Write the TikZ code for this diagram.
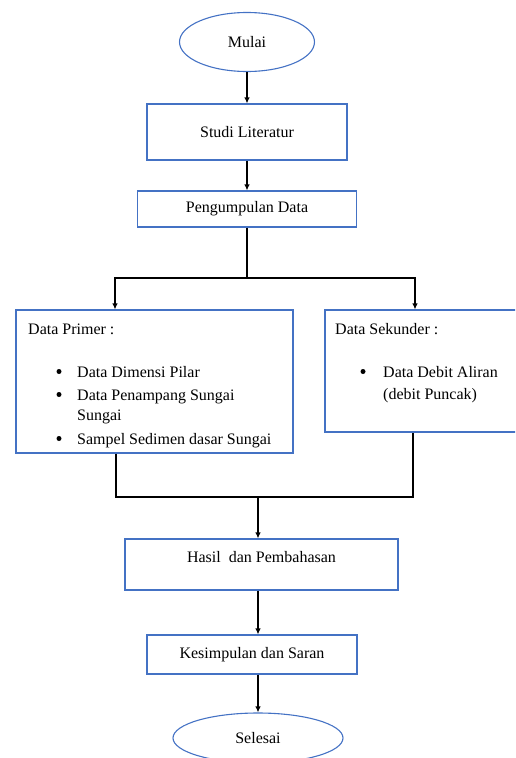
\documentclass[tikz,border=0pt]{standalone}
\usepackage{fontspec}
\setmainfont{Liberation Serif}
\usetikzlibrary{shapes.geometric,arrows.meta}
\definecolor{wordblue}{HTML}{4472C4}

\begin{document}
\begin{tikzpicture}[x=1pt,y=-1pt,
    font=\fontsize{16}{21}\selectfont,
    box/.style={draw=wordblue,line width=1.1pt,rectangle,inner sep=0pt},
    oval/.style={draw=wordblue,line width=1.1pt,ellipse,inner sep=0pt},
    txt/.style={anchor=base west,inner sep=0pt},
    dot/.style={circle,fill,inner sep=0pt,minimum size=5pt},
    link/.style={line width=1.4pt},
    flow/.style={line width=1.4pt,-{Latex[length=6pt,width=5.5pt]}}]
      \clip (0,0) rectangle (515,758);

      \node[oval,minimum width=135,minimum height=59] (mulai) at (247,42) {Mulai};
      \node[box,minimum width=200,minimum height=56] (studi) at (247,132) {Studi Literatur};
      \node[box,minimum width=219,minimum height=36] (kumpul) at (247,209) {Pengumpulan Data};

      \node[box,minimum width=277,minimum height=143] (primer) at (154.5,381.5) {};
      \node[txt] (primerjudul) at (28,334) {Data Primer :};
      \foreach[count=\i] \t/\y in {Data Dimensi Pilar/377,Data Penampang Sungai/400,Sampel Sedimen dasar Sungai/444} {
        \node[dot] (primerdot\i) at (59,\y-5.5) {};
        \node[txt] (primeritem\i) at (77,\y) {\t};
      }
      \node[txt] (primerlanjut) at (77,420) {Sungai};

      \node[box,minimum width=195,minimum height=122] (sekunder) at (422.5,371) {};
      \node[txt] (sekunderjudul) at (335,334) {Data Sekunder :};
      \node[dot] (sekunderdot) at (363,371.5) {};
      \node[txt] (sekunderitem) at (383,377) {Data Debit Aliran};
      \node[txt] (sekunderlanjut) at (383,399) {(debit Puncak)};

      \node[box,minimum width=273,minimum height=51,text depth=16pt] (hasil) at (261.5,564.5) {Hasil~ dan Pembahasan};
      \node[box,minimum width=210,minimum height=39] (simpul) at (252,654.5) {Kesimpulan dan Saran};
      \node[oval,minimum width=170,minimum height=50] (selesai) at (258,738) {Selesai};

      \coordinate (splitL) at (115,278);
      \coordinate (splitR) at (415,278);
      \coordinate (mergeL) at (116,497);
      \coordinate (mergeR) at (413,497);
      \coordinate (mid) at (258,497);

      \draw[flow] (mulai.south) -- (studi.north);
      \draw[flow] (studi.south) -- (kumpul.north);
      \draw[link] (kumpul.south) -- (kumpul.south |- splitL);
      \draw[flow] (kumpul.south |- splitL) -| (primer.north -| splitL);
      \draw[flow] (kumpul.south |- splitL) -| (sekunder.north -| splitR);

      \draw[link] (primer.south -| mergeL) |- (mergeR) -- (sekunder.south -| mergeR);
      \draw[flow] (mid) -- (hasil.north -| mid);
      \draw[flow] (hasil.south -| mid) -- (simpul.north -| mid);
      \draw[flow] (simpul.south -| mid) -- (selesai.north);
    \end{tikzpicture}
\end{document}
